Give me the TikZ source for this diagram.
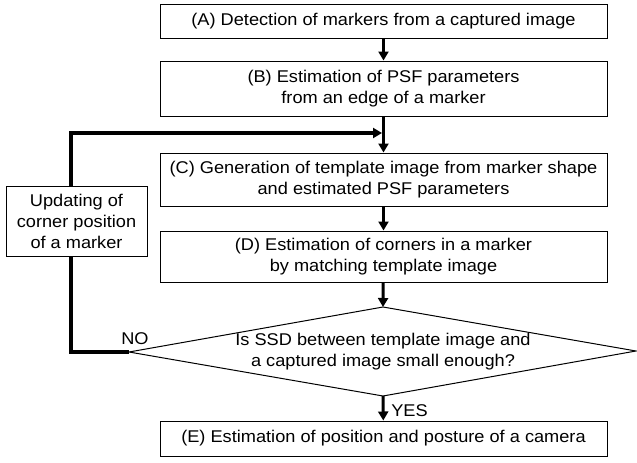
\documentclass[tikz,border=0pt]{standalone}
\usepackage{fontspec}
\setmainfont{Liberation Sans}[FakeStretch=1.07]
\usetikzlibrary{arrows.meta}
\begin{document}
\begin{tikzpicture}[x=1pt,y=-1pt,
  txt/.style={inner sep=0pt, align=center, font=\fontsize{17}{21}\selectfont},
  box/.style={txt, draw, line width=1pt, minimum width=447pt},
  flow/.style={line width=3pt, -{Triangle[length=9pt,width=10pt]}},
  fb/.style={line width=3.5pt},
  lbl/.style={inner sep=0pt, font=\fontsize{17}{21}\selectfont}]
\useasboundingbox (0,0) rectangle (637,463);
\node[box, minimum height=34pt] (A) at (383.5,21) {(A) Detection of markers from a captured image};
\node[box, minimum height=55pt] (B) at (383.5,88.5) {(B) Estimation of PSF parameters\\from an edge of a marker};
\node[box, minimum height=53pt] (C) at (383.5,179.5) {(C) Generation of template image from marker shape\\and estimated PSF parameters};
\node[box, minimum height=51pt] (D) at (383.5,256.5) {(D) Estimation of corners in a marker\\by matching template image};
\node[box, minimum height=35pt] (E) at (383.5,438.5) {(E) Estimation of position and posture of a camera};
\node[txt, draw, line width=1pt, minimum width=141pt, minimum height=70pt] (F) at (76.5,221) {Updating of\\corner position\\of a marker};
\node[txt] (Q) at (383,351.5) {Is SSD between template image and\\a captured image small enough?};
\coordinate (Qn) at (383,307);
\coordinate (Qs) at (383,396);
\coordinate (Qw) at (129,352);
\coordinate (Qe) at (636,351);
\draw[line width=1pt] (Qn) -- (Qe) -- (Qs) -- (Qw) -- cycle;
\coordinate (L1) at (71,352);
\coordinate (L2) at (71,133);
\coordinate (J) at (382,133);
\draw[flow] (A) -- (B);
\draw[flow] (B) -- (C);
\draw[flow] (C) -- (D);
\draw[flow] (D) -- (Qn);
\draw[flow] (Qs) -- (E);
\draw[fb] (Qw) -- (L1) -- (L1 |- F.south);
\draw[fb, -{Triangle[length=9pt,width=10pt]}] (L1 |- F.north) -- (L2) -- (J);
\node[lbl] (NO) at (135,339) {NO};
\node[lbl] (YES) at (409.5,411) {YES};
\end{tikzpicture}
\end{document}
